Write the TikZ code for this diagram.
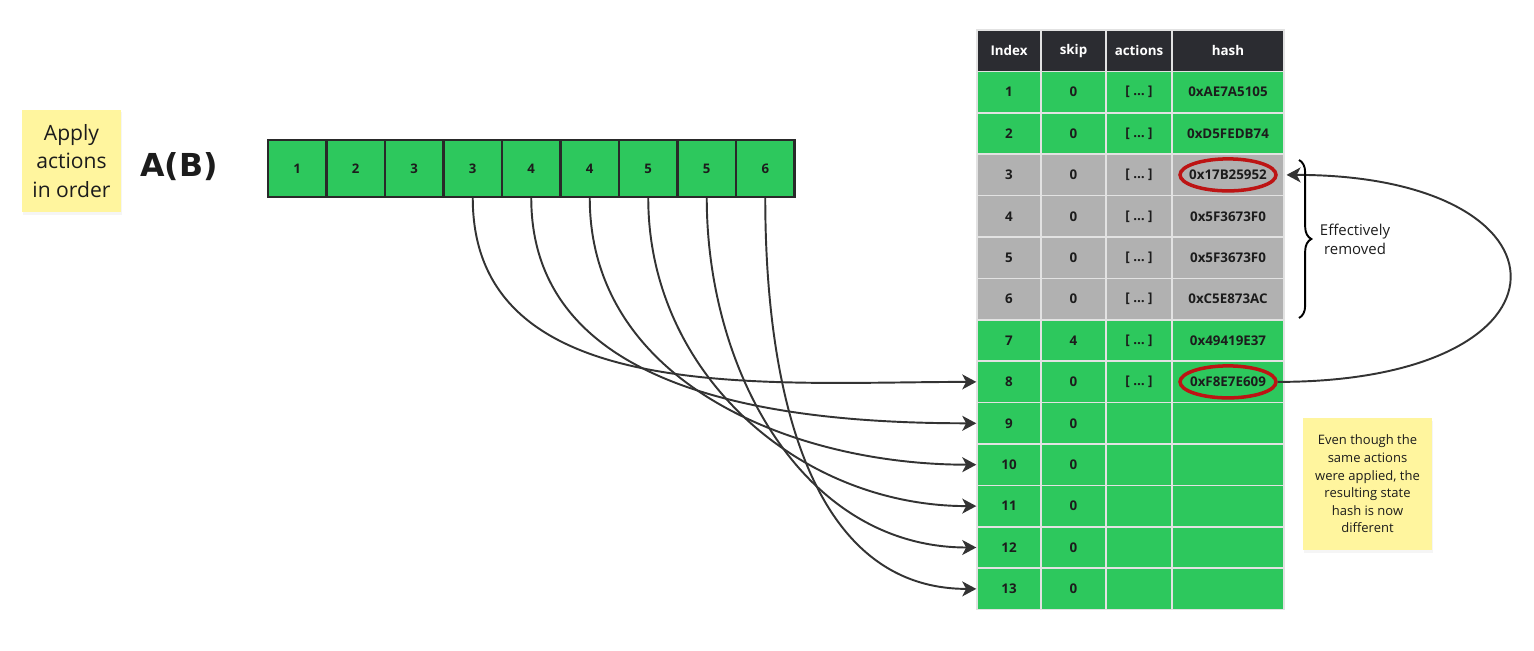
\documentclass[tikz,border=0pt]{standalone}
\usepackage{fontspec}
\setmainfont{Open Sans}
\newfontfamily\titulo{DejaVu Sans}
\usepackage{xcolor}
\usepackage{tikz}
\usetikzlibrary{shapes.geometric, arrows.meta, decorations.pathreplacing, shadows}

\definecolor{verde}{HTML}{2DC85D}
\definecolor{cinza}{HTML}{B1B1B1}
\definecolor{escuro}{HTML}{2B2C31}
\definecolor{tinta}{HTML}{1C1C1C}
\definecolor{linha}{HTML}{333333}
\definecolor{borda}{HTML}{E2E2E2}
\definecolor{vermelho}{HTML}{BD1414}
\definecolor{amarelo}{HTML}{FFF59E}

\begin{document}
\begin{tikzpicture}[
        x=0.02cm, y=-0.02cm,
        every node/.style={inner sep=0pt, text=tinta}
    ]
    \tikzset{
        celula/.style={draw=borda, line width=0.8pt, minimum height=0.828cm, font=\fontsize{7.6}{9}\selectfont\bfseries},
        cabeca/.style={fill=escuro, text=white},
        caixa/.style={draw=linha!80!black, fill=verde, line width=1.2pt, minimum width=1.17cm, minimum height=1.14cm, font=\fontsize{7.5}{9}\selectfont\bfseries},
        nota/.style={fill=amarelo, align=center, drop shadow={opacity=0.08, shadow xshift=0.6pt, shadow yshift=-1.5pt}},
        anel/.style={draw=vermelho, ellipse, line width=2pt, minimum width=1.92cm, minimum height=0.64cm},
        seta/.style={draw=linha, line width=1.1pt, -{Stealth[length=8pt, width=8.5pt, inset=2.2pt]}},
        chave/.style={draw=black, line width=1.1pt, decorate, decoration={brace, amplitude=7pt}}
    }
    \useasboundingbox (0,0) rectangle (1534,651);

    \node[nota, minimum width=1.98cm, minimum height=2.06cm, font=\fontsize{12}{16}\selectfont] (nota1) at (71.5,161) {Apply\\actions\\in order};
    \node[anchor=base, font=\titulo\bfseries\fontsize{18}{20}\selectfont] (ab) at (179,177) {A(B)};

    \foreach \v [count=\k] in {1,2,3,3,4,4,5,5,6}
        \node[caixa] (b\k) at ({268+58.5*(\k-0.5)},168.5) {\v};

    \foreach \t/\cx/\w in {Index/1009/1.28, skip/1073.5/1.30, actions/1139/1.32, hash/1228/2.24}
        \node[celula, cabeca, minimum width=\w cm] (cab\t) at (\cx,50.7) {\t};

    \foreach \i/\s/\h/\c in {1/0/0xAE7A5105/verde, 2/0/0xD5FEDB74/verde, 3/0/0x17B25952/cinza, 4/0/0x5F3673F0/cinza, 5/0/0x5F3673F0/cinza, 6/0/0xC5E873AC/cinza, 7/4/0x49419E37/verde, 8/0/0xF8E7E609/verde} {
        \pgfmathsetmacro\yy{30+41.4*(\i+0.5)}
        \node[celula, fill=\c, minimum width=1.28cm] (idx\i) at (1009,\yy) {\i};
        \node[celula, fill=\c, minimum width=1.30cm] (skip\i) at (1073.5,\yy) {\s};
        \node[celula, fill=\c, minimum width=1.32cm] (acao\i) at (1139,\yy) {[ … ]};
        \node[celula, fill=\c, minimum width=2.24cm] (hash\i) at (1228,\yy) {\h};
    }
    \foreach \i in {9,...,13} {
        \pgfmathsetmacro\yy{30+41.4*(\i+0.5)}
        \node[celula, fill=verde, minimum width=1.28cm] (idx\i) at (1009,\yy) {\i};
        \node[celula, fill=verde, minimum width=1.30cm] (skip\i) at (1073.5,\yy) {0};
        \node[celula, fill=verde, minimum width=1.32cm] (acao\i) at (1139,\yy) {};
        \node[celula, fill=verde, minimum width=2.24cm] (hash\i) at (1228,\yy) {};
    }

    \node[anel] (anel3) at (hash3) {};
    \node[anel] (anel8) at (hash8) {};

    \foreach \k/\r/\d in {4/8/210, 5/9/196, 6/10/184, 7/11/176, 8/12/173, 9/13/174}
        \draw[seta] (b\k.south) .. controls +(0,\d) and +(-\d,0) .. (idx\r.west);

    \draw[seta, shorten >=5pt] (anel8.east) .. controls +(310,0) and +(305,0) .. (anel3.east);

    \coordinate (chaveA) at (1299,160);
    \coordinate (chaveB) at (1299,318);
    \draw[chave] (chaveA) -- (chaveB);
    \node[align=center, font=\fontsize{8.5}{10.8}\selectfont] (efet) at (1355,239) {Effectively\\removed};

    \node[nota, minimum width=2.58cm, minimum height=2.64cm, font=\fontsize{7.4}{10}\selectfont] (nota2) at (1367.5,484) {Even though the\\same actions\\were applied, the\\resulting state\\hash is now\\different};
\end{tikzpicture}
\end{document}
